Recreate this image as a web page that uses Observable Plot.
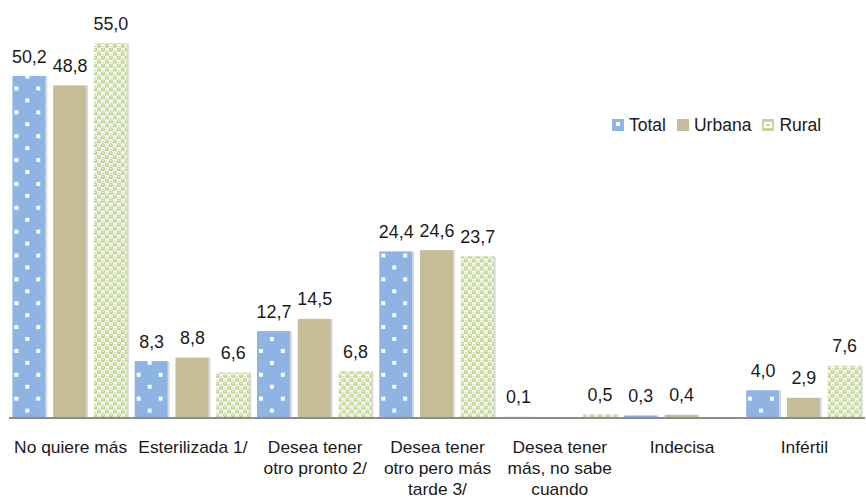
<!DOCTYPE html>
<html>
<head>
<meta charset="utf-8">
<script src="https://cdn.jsdelivr.net/npm/d3@7"></script>
<script src="https://cdn.jsdelivr.net/npm/@observablehq/plot@0.6"></script>
<style>
  html, body { margin: 0; padding: 0; background: #fff; overflow: hidden; }
  #wrap { position: relative; width: 866px; height: 501px; overflow: hidden; font-family: "Liberation Sans", Arial, sans-serif; }
  #legend { position: absolute; left: 612px; top: 115px; display: flex; align-items: center; font-size: 17.5px; line-height: 20px; color: #1a1a1a; }
  #legend .item { display: flex; align-items: center; margin-right: 11px; }
  #legend svg { margin-right: 5px; }
</style>
</head>
<body>
<svg width="0" height="0" style="position:absolute">
  <defs>
    <pattern id="patTotal" patternUnits="userSpaceOnUse" width="22" height="24">
      <rect width="22" height="24" fill="#8DB4E2"/>
      <rect x="2" y="3" width="4" height="4" fill="#fff"/>
      <rect x="13" y="15" width="4" height="4" fill="#fff"/>
    </pattern>
    <pattern id="patRural" patternUnits="userSpaceOnUse" width="8" height="8">
      <rect width="8" height="8" fill="#BED393"/>
      <rect x="0" y="0" width="4" height="4" fill="#fff"/>
      <rect x="4" y="4" width="4" height="4" fill="#fff"/>
      <rect x="1" y="2" width="2" height="1" fill="#BED393"/>
      <rect x="5" y="6" width="2" height="1" fill="#BED393"/>
      <rect x="5" y="1" width="2" height="1" fill="#e6efd4"/>
      <rect x="1" y="5" width="2" height="1" fill="#e6efd4"/>
    </pattern>
  </defs>
</svg>
<div id="wrap">
  <div id="chart"></div>
  <div id="legend"></div>
</div>
<script>
const categories = ["No quiere más", "Esterilizada 1/", "Desea tener otro pronto 2/", "Desea tener otro pero más tarde 3/", "Desea tener más, no sabe cuando", "Indecisa", "Infértil"];
const tickLabels = ["No quiere más", "Esterilizada 1/", "Desea tener\notro pronto 2/", "Desea tener\notro pero más\ntarde 3/", "Desea tener\nmás, no sabe\ncuando", "Indecisa", "Infértil"];
const series = ["Total", "Urbana", "Rural"];
const total  = [50.2, 8.3, 12.7, 24.4, 0.1, 0.3, 4.0];
const urbana = [48.8, 8.8, 14.5, 24.6, null, 0.4, 2.9];
const rural  = [55.0, 6.6, 6.8, 23.7, 0.5, null, 7.6];
const seriesFills = ["url(#patTotal)", "#C4BD97", "url(#patRural)"];

const valuesBySeries = [total, urbana, rural];
const data = [];
categories.forEach((c, i) => {
  series.forEach((s, j) => {
    const v = valuesBySeries[j][i];
    if (v != null) data.push({category: c, series: s, value: v});
  });
});
const labelOf = new Map(categories.map((c, i) => [c, tickLabels[i]]));
const fmt = v => v.toFixed(1).replace(".", ",");

const chart = Plot.plot({
  width: 871,
  height: 501,
  marginLeft: 7.5,
  marginRight: 0,
  marginTop: 9.3,
  marginBottom: 81,
  style: {fontFamily: '"Liberation Sans", Arial, sans-serif', color: "#1a1a1a", background: "transparent", overflow: "visible"},
  fx: {domain: categories, paddingInner: 0, paddingOuter: 0, axis: null},
  x: {domain: series, paddingInner: 0.19, paddingOuter: 0.06, axis: null},
  y: {domain: [0, 60], axis: null},
  color: {domain: series, range: seriesFills},
  marks: [
    Plot.barY(data, {fx: "category", x: "series", y: "value", fill: "#b8b8b8", fillOpacity: 0.55, dx: 2, dy: 0}),
    Plot.barY(data, {fx: "category", x: "series", y: "value", fill: "series"}),
    Plot.text(data, {fx: "category", x: "series", y: "value", text: d => fmt(d.value), lineAnchor: "bottom", dy: -14, fontSize: 18, fill: "#1a1a1a"}),
    Plot.ruleY([0], {stroke: "#8c8c8c", strokeWidth: 2}),
    Plot.axisFx({anchor: "bottom", tickSize: 0, tickPadding: 20, fontSize: 17.5, lineHeight: 1.2, tickFormat: c => labelOf.get(c), label: null})
  ]
});
document.getElementById("chart").appendChild(chart);

// legend
const legend = document.getElementById("legend");
const swatchSvgs = [
  '<svg width="12" height="12"><rect width="12" height="12" fill="#8DB4E2"/><rect x="4" y="3" width="4" height="4" fill="#fff"/></svg>',
  '<svg width="12" height="12"><rect width="12" height="12" fill="#C4BD97"/></svg>',
  '<svg width="12" height="12"><rect width="12" height="12" fill="#C4D79B"/><rect x="2" y="3" width="8" height="6" fill="#fff"/><rect x="4" y="5" width="4" height="2" fill="#C4D79B"/></svg>'
];
series.forEach((s, i) => {
  const item = document.createElement("div");
  item.className = "item";
  item.innerHTML = swatchSvgs[i] + "<span>" + s + "</span>";
  legend.appendChild(item);
});
</script>
</body>
</html>
